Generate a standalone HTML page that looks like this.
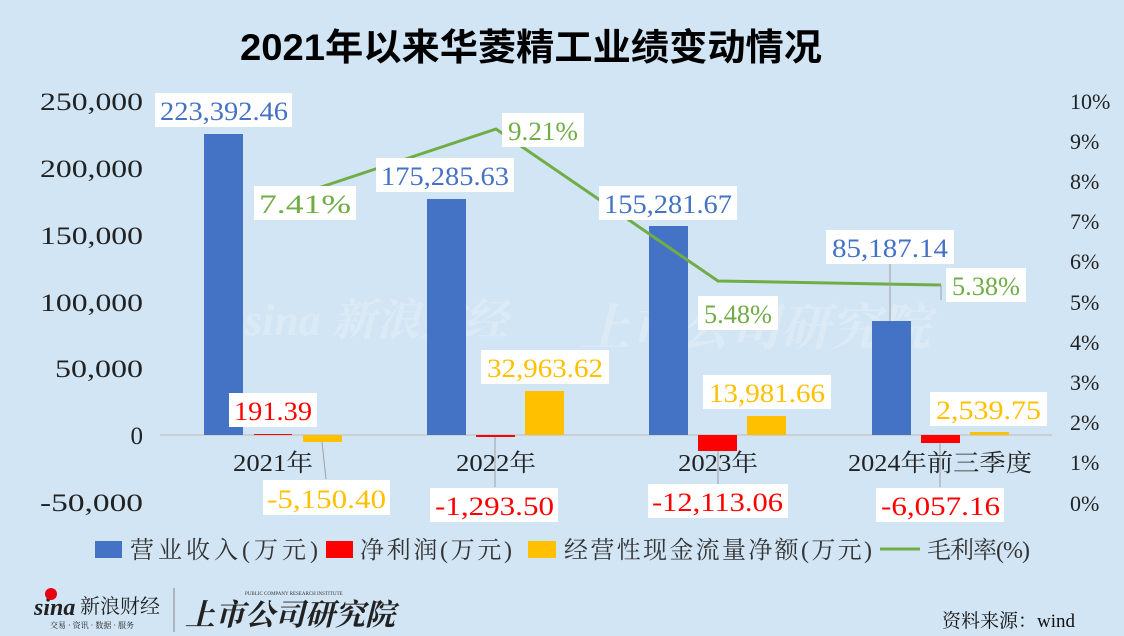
<!DOCTYPE html><html><head><meta charset="utf-8"><style>
body{margin:0;background:#d2e5f4;}
svg{display:block}
text{font-family:"Liberation Serif","Noto Serif CJK SC",serif;}
</style></head><body>
<svg width="1124" height="636" viewBox="0 0 1124 636">
<rect width="1124" height="636" fill="#d2e5f4"/>
<text x="240" y="60" textLength="582" lengthAdjust="spacingAndGlyphs" font-size="37" font-weight="bold" style="font-family:'Liberation Sans','Noto Sans CJK SC',sans-serif">2021年以来华菱精工业绩变动情况</text>
<g opacity="0.22" fill="#fff" style="font-family:'Liberation Sans','Noto Sans CJK SC',sans-serif">
<text x="245" y="335" font-size="44" font-weight="bold" font-style="italic">sina 新浪财经</text>
<text x="580" y="345" font-size="50" font-weight="bold" font-style="italic">上市公司研究院</text>
</g>
<line x1="160" y1="435" x2="1052" y2="435" stroke="#c8c8c8" stroke-width="1.5"/>
<g font-size="25" fill="#222" text-anchor="end">
<text x="143" y="110" textLength="103" lengthAdjust="spacingAndGlyphs">250,000</text>
<text x="143" y="177" textLength="103" lengthAdjust="spacingAndGlyphs">200,000</text>
<text x="143" y="244" textLength="103" lengthAdjust="spacingAndGlyphs">150,000</text>
<text x="143" y="311" textLength="103" lengthAdjust="spacingAndGlyphs">100,000</text>
<text x="143" y="377" textLength="88" lengthAdjust="spacingAndGlyphs">50,000</text>
<text x="143" y="444">0</text>
<text x="143" y="511" textLength="103" lengthAdjust="spacingAndGlyphs">-50,000</text>
</g>
<g font-size="22" fill="#222">
<text x="1070" y="109">10%</text><text x="1070" y="149">9%</text><text x="1070" y="189">8%</text><text x="1070" y="229">7%</text><text x="1070" y="269">6%</text><text x="1070" y="310">5%</text><text x="1070" y="350">4%</text><text x="1070" y="390">3%</text><text x="1070" y="430">2%</text><text x="1070" y="470">1%</text><text x="1070" y="511">0%</text>
</g>
<g fill="#4472c4">
<rect x="204" y="134" width="39" height="301"/><rect x="427" y="199" width="39" height="236"/><rect x="649" y="226" width="39" height="209"/><rect x="872" y="321" width="39" height="114"/>
</g>
<g fill="#ff0000">
<rect x="254" y="434" width="38" height="1"/><rect x="476" y="435" width="39" height="2"/><rect x="698" y="435" width="39" height="16"/><rect x="921" y="435" width="39" height="8"/>
</g>
<g fill="#ffc000">
<rect x="303" y="435" width="39" height="7"/><rect x="525" y="391" width="39" height="44"/><rect x="747" y="416" width="39" height="19"/><rect x="970" y="432" width="39" height="3"/>
</g>
<polyline points="273,203 496,129 718,281 941,285" fill="none" stroke="#70ad47" stroke-width="3"/>
<g stroke="#a0a0a0" stroke-width="1">
<line x1="322" y1="442" x2="326" y2="479"/><line x1="495" y1="437" x2="495" y2="487"/><line x1="718" y1="451" x2="718" y2="487"/><line x1="940" y1="443" x2="940" y2="487"/><line x1="890" y1="263" x2="890" y2="321"/><line x1="941" y1="285" x2="941" y2="300"/>
</g>
<g font-size="26">
<rect x="155" y="93" width="137" height="34" fill="#fff"/><text x="160" y="120" textLength="128" lengthAdjust="spacingAndGlyphs" fill="#4472c4">223,392.46</text>
<rect x="376" y="158" width="138" height="34" fill="#fff"/><text x="381" y="185" textLength="128" lengthAdjust="spacingAndGlyphs" fill="#4472c4">175,285.63</text>
<rect x="599" y="186" width="138" height="34" fill="#fff"/><text x="604" y="213" textLength="128" lengthAdjust="spacingAndGlyphs" fill="#4472c4">155,281.67</text>
<rect x="826" y="230" width="128" height="34" fill="#fff"/><text x="832" y="257" textLength="116" lengthAdjust="spacingAndGlyphs" fill="#4472c4">85,187.14</text>
<rect x="229" y="393" width="88" height="34" fill="#fff"/><text x="234" y="420" textLength="78" lengthAdjust="spacingAndGlyphs" fill="#ff0000">191.39</text>
<rect x="263" y="480" width="127" height="35" fill="#fff"/><text x="267" y="508" textLength="119" lengthAdjust="spacingAndGlyphs" fill="#ffc000">-5,150.40</text>
<rect x="430" y="488" width="128" height="34" fill="#fff"/><text x="435" y="515" textLength="119" lengthAdjust="spacingAndGlyphs" fill="#ff0000">-1,293.50</text>
<rect x="648" y="484" width="140" height="34" fill="#fff"/><text x="652" y="511" textLength="131" lengthAdjust="spacingAndGlyphs" fill="#ff0000">-12,113.06</text>
<rect x="876" y="488" width="128" height="34" fill="#fff"/><text x="881" y="515" textLength="119" lengthAdjust="spacingAndGlyphs" fill="#ff0000">-6,057.16</text>
<rect x="481" y="350" width="128" height="34" fill="#fff"/><text x="487" y="377" textLength="116" lengthAdjust="spacingAndGlyphs" fill="#ffc000">32,963.62</text>
<rect x="703" y="375" width="128" height="34" fill="#fff"/><text x="709" y="402" textLength="116" lengthAdjust="spacingAndGlyphs" fill="#ffc000">13,981.66</text>
<rect x="930" y="392" width="117" height="34" fill="#fff"/><text x="936" y="419" textLength="105" lengthAdjust="spacingAndGlyphs" fill="#ffc000">2,539.75</text>
<rect x="254" y="186" width="102" height="34" fill="#fff"/><text x="259" y="213" textLength="92" lengthAdjust="spacingAndGlyphs" fill="#70ad47">7.41%</text>
<rect x="502" y="113" width="82" height="34" fill="#fff"/><text x="508" y="140" textLength="70" lengthAdjust="spacingAndGlyphs" fill="#70ad47">9.21%</text>
<rect x="698" y="296" width="80" height="34" fill="#fff"/><text x="704" y="323" textLength="68" lengthAdjust="spacingAndGlyphs" fill="#70ad47">5.48%</text>
<rect x="946" y="268" width="80" height="34" fill="#fff"/><text x="952" y="295" textLength="68" lengthAdjust="spacingAndGlyphs" fill="#70ad47">5.38%</text>
</g>
<g font-size="24" fill="#222">
<text x="233" y="471" textLength="80" lengthAdjust="spacingAndGlyphs">2021年</text>
<text x="456" y="471" textLength="80" lengthAdjust="spacingAndGlyphs">2022年</text>
<text x="678" y="471" textLength="80" lengthAdjust="spacingAndGlyphs">2023年</text>
<text x="848" y="471" textLength="184" lengthAdjust="spacingAndGlyphs">2024年前三季度</text>
</g>
<g font-size="24" fill="#333">
<rect x="95" y="541" width="27" height="17" fill="#4472c4"/><text x="130" y="558" textLength="188" lengthAdjust="spacing">营业收入(万元)</text>
<rect x="326" y="541" width="27" height="17" fill="#ff0000"/><text x="360" y="558" textLength="152" lengthAdjust="spacing">净利润(万元)</text>
<rect x="528" y="541" width="28" height="17" fill="#ffc000"/><text x="564" y="558" textLength="308" lengthAdjust="spacing">经营性现金流量净额(万元)</text>
<line x1="880" y1="549" x2="920" y2="549" stroke="#70ad47" stroke-width="3"/><text x="927" y="558" textLength="103" lengthAdjust="spacing">毛利率(%)</text>
</g>
<g style="font-family:'Liberation Sans','Noto Sans CJK SC',sans-serif">
<text x="34" y="615" font-size="24" font-weight="bold" font-style="italic" fill="#222">sina</text>
<circle cx="51" cy="594" r="6" fill="#e60012"/>
<text x="80" y="613" font-size="20" fill="#222">新浪财经</text>
<text x="50" y="628" font-size="8" fill="#222">交易 · 资讯 · 数据 · 服务</text>
<line x1="174" y1="588" x2="174" y2="632" stroke="#888"/>
<text x="245" y="595" font-size="5" fill="#333">PUBLIC COMPANY RESEARCH INSTITUTE</text>
<text x="185" y="625" font-size="30" font-weight="bold" font-style="italic" fill="#222">上市公司研究院</text>
<text x="942" y="627" font-size="19" fill="#111">资料来源：wind</text>
</g>
</svg>
</body></html>
